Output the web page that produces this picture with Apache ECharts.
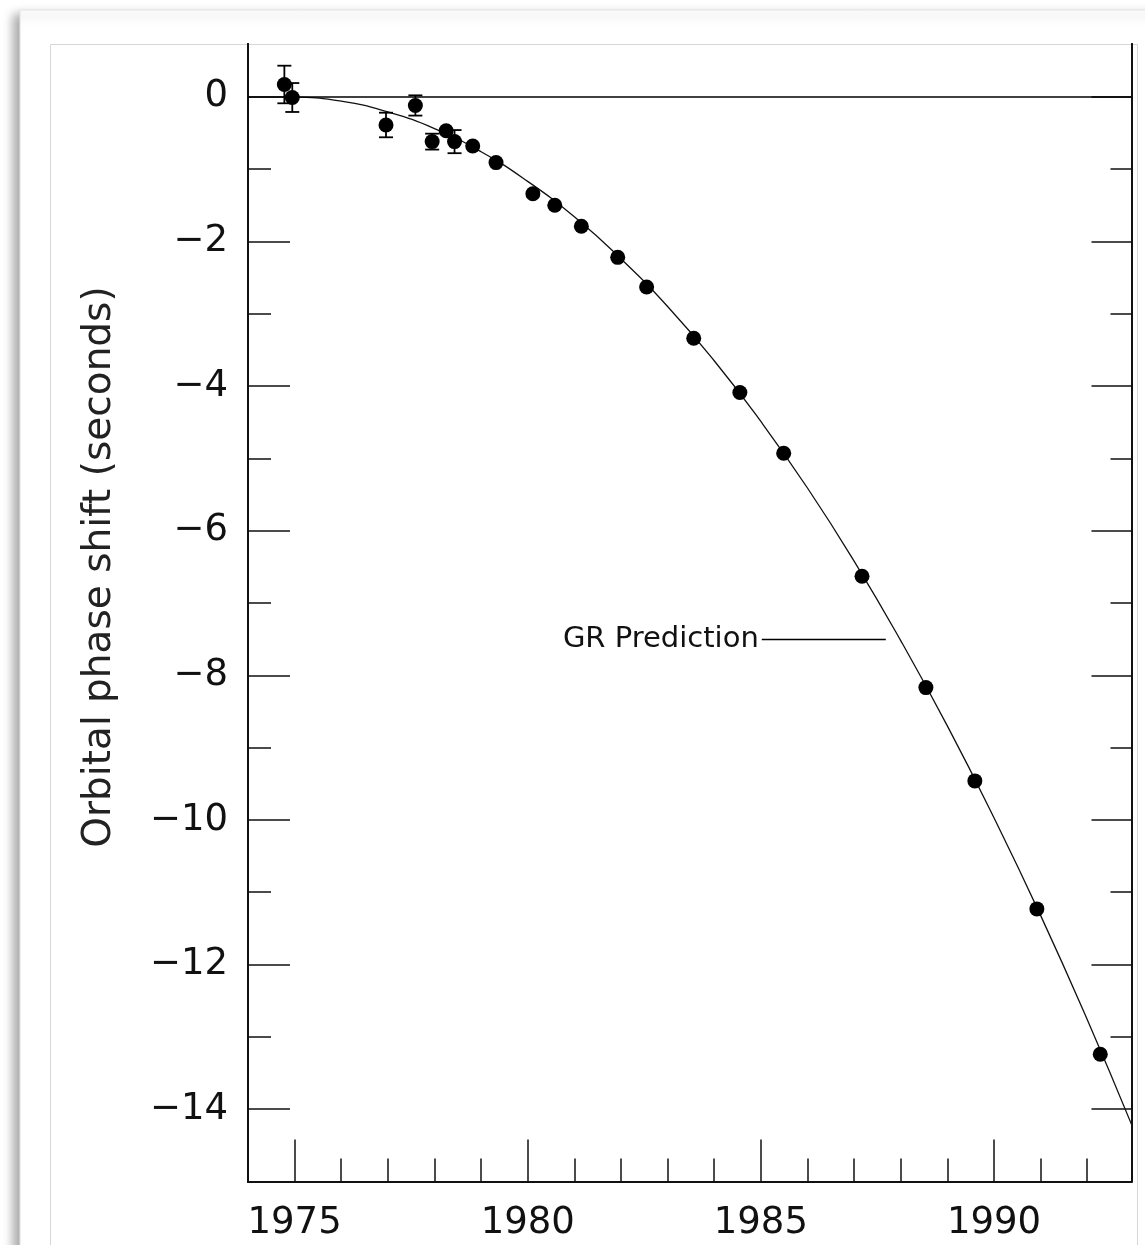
<!DOCTYPE html>
<html>
<head>
<meta charset="utf-8">
<title>Orbital phase shift</title>
<script src="https://cdn.jsdelivr.net/npm/echarts@6/dist/echarts.min.js"></script>
<style>
html, body { margin: 0; padding: 0; background: #fff; }
#chart { width: 1145px; height: 1245px; }
</style>
</head>
<body>
<div id="chart"></div>
<script>
// 观测数据 (年份, 相位偏移秒, 误差)
var obsYears = [1974.78, 1974.95, 1976.96, 1977.59, 1977.95, 1978.25, 1978.43, 1978.82, 1979.32, 1980.11,
    1980.58, 1981.15, 1981.93, 1982.55, 1983.56, 1984.55, 1985.49, 1987.17, 1988.54, 1989.59, 1990.92, 1992.28];
var obsShift = [0.17, -0.01, -0.39, -0.12, -0.62, -0.47, -0.62, -0.68, -0.91, -1.34,
    -1.50, -1.79, -2.22, -2.63, -3.34, -4.09, -4.93, -6.63, -8.17, -9.46, -11.23, -13.24];
var obsErr = [0.26, 0.20, 0.17, 0.14, 0.11, 0, 0.16, 0, 0, 0,
    0, 0, 0, 0, 0, 0, 0, 0, 0, 0, 0, 0];

// 广义相对论预测曲线
var curveYears = [1974.8, 1975, 1976, 1977, 1978, 1979, 1980, 1981, 1982, 1983, 1984,
    1985, 1986, 1987, 1988, 1989, 1990, 1991, 1992, 1992.95];
var curveShift = [0, -0.002, -0.06, -0.21, -0.44, -0.76, -1.17, -1.66, -2.24, -2.90, -3.65,
    -4.49, -5.41, -6.42, -7.52, -8.70, -9.97, -11.32, -12.76, -14.21];

// 刻度
var xMajor = [1975, 1980, 1985, 1990];
var xMinor = [1976, 1977, 1978, 1979, 1981, 1982, 1983, 1984, 1986, 1987, 1988, 1989, 1991, 1992];
var yMajor = [0, -2, -4, -6, -8, -10, -12, -14];
var yMinor = [-1, -3, -5, -7, -9, -11, -13];

var xMin = 1974, xMax = 1992.95, yMin = -15, yMax = 0.73;
var font = 'DejaVu Sans';
var ink = '#111';

var myChart = echarts.init(document.getElementById('chart'));

var curveData = [];
for (var i = 0; i < curveYears.length; i++) {
    curveData.push([curveYears[i], curveShift[i]]);
}
var obsData = [];
var errData = [];
for (var i = 0; i < obsYears.length; i++) {
    obsData.push([obsYears[i], obsShift[i]]);
    if (obsErr[i] > 0) {
        errData.push([obsYears[i], obsShift[i] - obsErr[i], obsShift[i] + obsErr[i]]);
    }
}

function xAxisOf(ticks, len, labels) {
    return {
        type: 'value', min: xMin, max: xMax, position: 'bottom',
        axisLine: {show: true, onZero: false, lineStyle: {color: ink, width: 2}},
        axisTick: {show: true, inside: true, length: len, customValues: ticks, lineStyle: {color: ink, width: 1.5}},
        axisLabel: labels ? {
            show: true, customValues: ticks, margin: 23, color: ink,
            fontFamily: font, fontSize: 37,
            formatter: function (v) { return String(v); }
        } : {show: false},
        splitLine: {show: false}
    };
}

function yAxisOf(pos, ticks, len, labels) {
    return {
        type: 'value', min: yMin, max: yMax, position: pos,
        axisLine: {show: true, onZero: false, lineStyle: {color: ink, width: 2}},
        axisTick: {show: true, inside: true, length: len, customValues: ticks, lineStyle: {color: ink, width: 1.5}},
        axisLabel: labels ? {
            show: true, customValues: ticks, margin: 20, color: ink,
            fontFamily: font, fontSize: 37,
            formatter: function (v) { return v < 0 ? '\u2212' + Math.abs(v) : String(v); }
        } : {show: false},
        splitLine: {show: false}
    };
}

function renderErr(params, api) {
    var x = api.value(0);
    var bot = api.coord([x, api.value(1)]);
    var top = api.coord([x, api.value(2)]);
    var w = 7;
    var st = {stroke: '#000', lineWidth: 1.8};
    return {
        type: 'group',
        children: [
            {type: 'line', shape: {x1: top[0], y1: top[1], x2: bot[0], y2: bot[1]}, style: st},
            {type: 'line', shape: {x1: top[0] - w, y1: top[1], x2: top[0] + w, y2: top[1]}, style: st},
            {type: 'line', shape: {x1: bot[0] - w, y1: bot[1], x2: bot[0] + w, y2: bot[1]}, style: st}
        ]
    };
}

var grLabel = {
    show: true, position: 'start', distance: 3, formatter: 'GR Prediction',
    color: ink, fontFamily: font, fontSize: 29
};

var option = {
    animation: false,
    backgroundColor: '#fff',
    graphic: [
        {   // 外框和阴影
            type: 'rect', z: -10, silent: true,
            shape: {x: 20, y: 10, width: 1200, height: 1300},
            style: {fill: '#fff', stroke: '#e4e4e4', lineWidth: 1,
                shadowBlur: 10, shadowOffsetX: -6, shadowOffsetY: 5, shadowColor: 'rgba(0,0,0,0.35)'}
        },
        {
            type: 'rect', z: -9, silent: true,
            shape: {x: 50.5, y: 44.5, width: 1087, height: 1300},
            style: {fill: 'none', stroke: '#d6d6d6', lineWidth: 1}
        },
        {
            type: 'text', z: 10, silent: true,
            x: 100, y: 567, rotation: Math.PI / 2,
            style: {text: 'Orbital phase shift (seconds)', fill: '#222', font: '39px "DejaVu Sans"',
                align: 'center', verticalAlign: 'middle'}
        }
    ],
    grid: {left: 248, right: 13.5, top: 44, bottom: 63.5, outerBoundsMode: 'none'},
    xAxis: [
        xAxisOf(xMajor, 42, true),
        xAxisOf(xMinor, 23, false)
    ],
    yAxis: [
        yAxisOf('left', yMajor, 42, true),
        yAxisOf('left', yMinor, 23, false),
        yAxisOf('right', yMajor, 40, false),
        yAxisOf('right', yMinor, 21, false)
    ],
    series: [
        {
            name: 'GR Prediction',
            type: 'line',
            data: curveData,
            smooth: true,
            showSymbol: false,
            silent: true,
            lineStyle: {color: ink, width: 1.3},
            markLine: {
                silent: true,
                symbol: 'none',
                label: {show: false},
                lineStyle: {color: '#000', width: 1.5, type: 'solid'},
                data: [
                    {yAxis: 0},
                    [
                        {coord: [1985.02, -7.5], label: grLabel, lineStyle: {width: 1.3}},
                        {coord: [1987.68, -7.5], label: grLabel, lineStyle: {width: 1.3}}
                    ]
                ]
            },
            z: 2
        },
        {
            name: 'errors',
            type: 'custom',
            renderItem: renderErr,
            data: errData,
            silent: true,
            z: 3
        },
        {
            name: 'observed',
            type: 'scatter',
            data: obsData,
            symbol: 'circle',
            symbolSize: 15,
            itemStyle: {color: '#000', opacity: 1},
            silent: true,
            z: 4
        }
    ]
};

myChart.setOption(option);
</script>
</body>
</html>
